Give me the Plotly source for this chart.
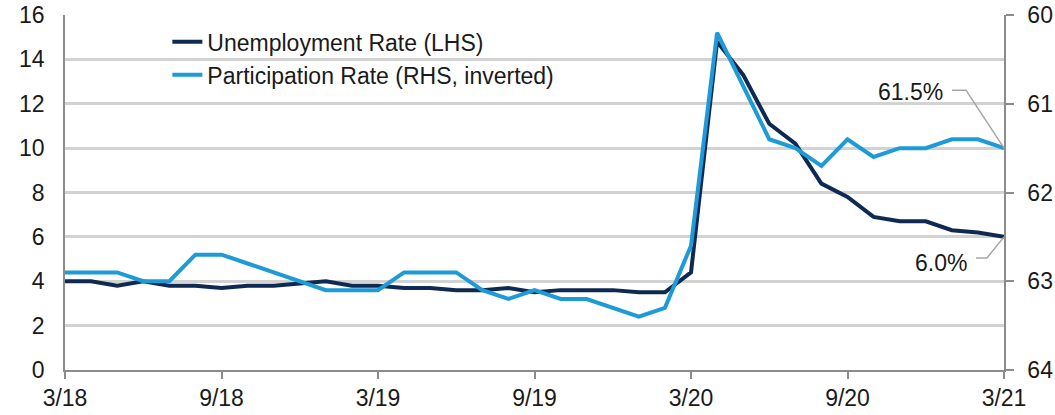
import plotly.graph_objects as go

# ---- Datos ----
meses = [f"{m}/{a}" for a, ms in [(18, range(3, 13)), (19, range(1, 13)), (20, range(1, 13)), (21, range(1, 4))] for m in ms]

desempleo = [4.0, 4.0, 3.8, 4.0, 3.8, 3.8, 3.7, 3.8, 3.8, 3.9, 4.0, 3.8,
             3.8, 3.7, 3.7, 3.6, 3.6, 3.7, 3.5, 3.6, 3.6, 3.6, 3.5, 3.5,
             4.4, 14.8, 13.3, 11.1, 10.2, 8.4, 7.8, 6.9, 6.7, 6.7, 6.3, 6.2, 6.0]

participacion = [62.9, 62.9, 62.9, 63.0, 63.0, 62.7, 62.7, 62.8, 62.9, 63.0, 63.1, 63.1,
                 63.1, 62.9, 62.9, 62.9, 63.1, 63.2, 63.1, 63.2, 63.2, 63.3, 63.4, 63.3,
                 62.6, 60.2, 60.8, 61.4, 61.5, 61.7, 61.4, 61.6, 61.5, 61.5, 61.4, 61.4, 61.5]

etiquetas_x = ["3/18", "9/18", "3/19", "9/19", "3/20", "9/20", "3/21"]

NAVY = "#0E2A52"
AZUL = "#1E9BD7"
GRIS = "#8C8C8C"
fuente = "Liberation Sans, Arial, sans-serif"

fig = go.Figure()
fig.add_trace(go.Scatter(x=meses, y=desempleo, name="Unemployment Rate (LHS)",
                         mode="lines", line=dict(color=NAVY, width=4)))
fig.add_trace(go.Scatter(x=meses, y=participacion, name="Participation Rate (RHS, inverted)",
                         mode="lines", line=dict(color=AZUL, width=4), yaxis="y2"))

fig.update_layout(
    width=1055, height=415,
    margin=dict(l=65, r=51, t=15, b=45, autoexpand=False),
    paper_bgcolor="white", plot_bgcolor="white",
    font=dict(family=fuente, size=23, color="#1a1a1a"),
    showlegend=True,
    legend=dict(x=0.109, y=0.985, xanchor="left", yanchor="top",
                bgcolor="rgba(0,0,0,0)", font=dict(size=23),
                tracegroupgap=0, itemwidth=30),
    xaxis=dict(type="category", range=[0, 36], tickvals=etiquetas_x, ticktext=etiquetas_x,
               showgrid=False, showline=True, linecolor=GRIS, linewidth=1.5,
               ticks="outside", ticklen=7, tickcolor=GRIS, tickwidth=1.5,
               tickfont=dict(size=23), zeroline=False, automargin=False),
    yaxis=dict(range=[0, 16], dtick=2, showgrid=True, gridcolor="#D2D2D2", gridwidth=3,
               showline=True, linecolor=GRIS, linewidth=1.5, ticks="",
               ticklabelstandoff=14, ticklabeloverflow="allow",
               tickfont=dict(size=23), zeroline=False, automargin=False),
    yaxis2=dict(overlaying="y", side="right", range=[64, 60], dtick=1,
                showgrid=False, showline=True, linecolor=GRIS, linewidth=1.5,
                ticks="outside", ticklen=8, tickcolor=GRIS, tickwidth=1.5,
                ticklabelstandoff=9, ticklabeloverflow="allow",
                tickfont=dict(size=23), zeroline=False, automargin=False),
)

# ---- Etiquetas finales con lineas guia ----
fin = meses[-1]
guias = [
    (participacion[-1], "y2", "M 0,0 L -38,58 L -52,58", f"{participacion[-1]:.1f}%", -59, 56),
    (desempleo[-1], "y", "M 0,0 L -17,-21 L -28,-21", f"{desempleo[-1]:.1f}%", -35, -26),
]
for valor, eje, camino, texto, dx, dy in guias:
    fig.add_shape(type="path", xref="x", yref=eje, xsizemode="pixel", ysizemode="pixel",
                  xanchor=fin, yanchor=valor, path=camino,
                  line=dict(color="#A6A6A6", width=1.5))
    fig.add_annotation(x=fin, y=valor, yref=eje, text=texto, showarrow=False,
                       xanchor="right", yanchor="middle", xshift=dx, yshift=dy,
                       font=dict(size=23, color="#1a1a1a"))

# sin el margen por defecto del body la figura queda en 0,0
fig.write_html("out.html", config={"displayModeBar": False},
               post_script="document.body.style.margin='0px';")
